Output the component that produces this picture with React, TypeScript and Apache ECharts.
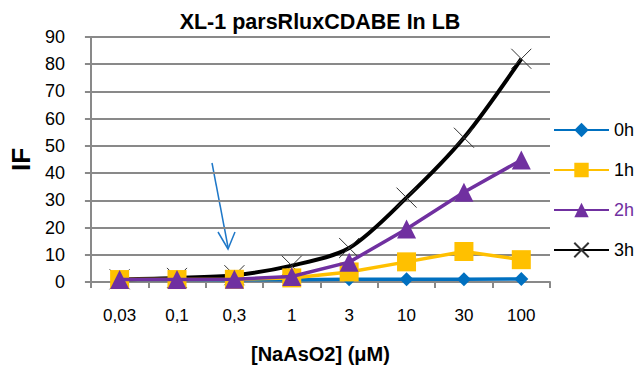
import React, { useEffect, useRef } from "react";
import * as echarts from "echarts";

const categories = ["0,03", "0,1", "0,3", "1", "3", "10", "30", "100"];
const seriesNames = ["0h", "1h", "2h", "3h"];
const h0 = [0.8, 0.8, 0.8, 0.8, 1, 1, 1, 1.1];
const h1 = [0.9, 0.9, 1, 1.5, 3.7, 7.4, 11.2, 8.2];
const h2 = [0.9, 0.9, 1, 2, 7.3, 19.5, 33, 44.8];
const h3 = [1, 1.5, 2.5, 6, 12.5, 31, 53, 82];
const yTicks = { min: 0, max: 90, interval: 10 };

const colors = ["#0070C0", "#FFC000", "#7030A0", "#000000"];
const legendTextColors = ["#000000", "#000000", "#7030A0", "#000000"];
const crossPath = "path://M0,0L10,10M10,0L0,10";

export default function App() {
  const ref = useRef<HTMLDivElement>(null);
  useEffect(() => {
    if (!ref.current) return;
    const chart = echarts.init(ref.current, null, { renderer: "svg" });
    const font = "Liberation Sans, Arial, sans-serif";
    const symbols = ["diamond", "rect", "triangle", crossPath];
    const sizes = [14, 19, 19, 20];
    const datas = [h0, h1, h2, h3];
    chart.setOption({
      animation: false,
      textStyle: { fontFamily: font },
      title: {
        text: "XL-1 parsRluxCDABE In LB",
        left: 315,
        textAlign: "center",
        top: 6,
        textStyle: { fontSize: 21.5, fontWeight: "bold", color: "#000", fontFamily: font },
      },
      grid: { left: 88, right: 88, top: 37, bottom: 89, containLabel: false },
      legend: {
        orient: "vertical",
        left: 548,
        top: 116,
        padding: 5,
        itemGap: 22,
        itemWidth: 55,
        itemHeight: 18,
        textStyle: { fontSize: 18, fontFamily: font, padding: [0, 0, 0, 0] },
        data: seriesNames.map((n, i) => ({
          name: n,
          textStyle: { color: legendTextColors[i] },
        })),
      },
      xAxis: {
        type: "category",
        data: categories,
        boundaryGap: true,
        name: "[NaAsO2] (μM)",
        nameLocation: "middle",
        nameGap: 62,
        nameTextStyle: { fontSize: 20, fontWeight: "bold", color: "#000", fontFamily: font },
        axisLine: { lineStyle: { color: "#898989", width: 2 } },
        axisTick: { show: true, alignWithLabel: false, length: 6, lineStyle: { color: "#898989", width: 2 } },
        axisLabel: { fontSize: 17, color: "#000", margin: 25, fontFamily: font },
      },
      yAxis: {
        type: "value",
        min: yTicks.min,
        max: yTicks.max,
        interval: yTicks.interval,
        name: "IF",
        nameLocation: "middle",
        nameGap: 50,
        nameRotate: 90,
        nameTextStyle: { fontSize: 26, fontWeight: "bold", color: "#000", fontFamily: font },
        axisLine: { show: true, lineStyle: { color: "#898989", width: 2 } },
        axisTick: { show: true, length: 6, inside: false, lineStyle: { color: "#898989", width: 2 } },
        axisLabel: { fontSize: 18, color: "#000", margin: 26, fontFamily: font },
        splitLine: { lineStyle: { color: "#898989", width: 2 } },
      },
      series: seriesNames.map((n, i) => ({
        name: n,
        type: "line",
        data: datas[i],
        smooth: i === 3 ? 0.3 : false,
        symbol: symbols[i],
        symbolSize: sizes[i],
        showAllSymbol: true,
        z: 2 + (i === 3 ? 0 : i),
        lineStyle: { color: colors[i], width: i === 3 ? 4 : 3.5 },
        itemStyle:
          i === 3
            ? { color: "#333", borderColor: "#333", borderWidth: 1 }
            : { color: colors[i] },
      })),
      graphic: [
        {
          type: "line",
          shape: { x1: 212, y1: 163, x2: 228, y2: 247 },
          style: { stroke: "#1F78C8", lineWidth: 1.5 },
        },
        {
          type: "polyline",
          shape: { points: [[218, 232], [228, 249], [235, 232]] },
          style: { stroke: "#1F78C8", lineWidth: 1.5, fill: "none" },
        },
      ],
    });
    return () => chart.dispose();
  }, []);
  return (
    <div
      ref={ref}
      style={{ position: "absolute", left: 0, top: 0, width: 638, height: 371 }}
    />
  );
}
